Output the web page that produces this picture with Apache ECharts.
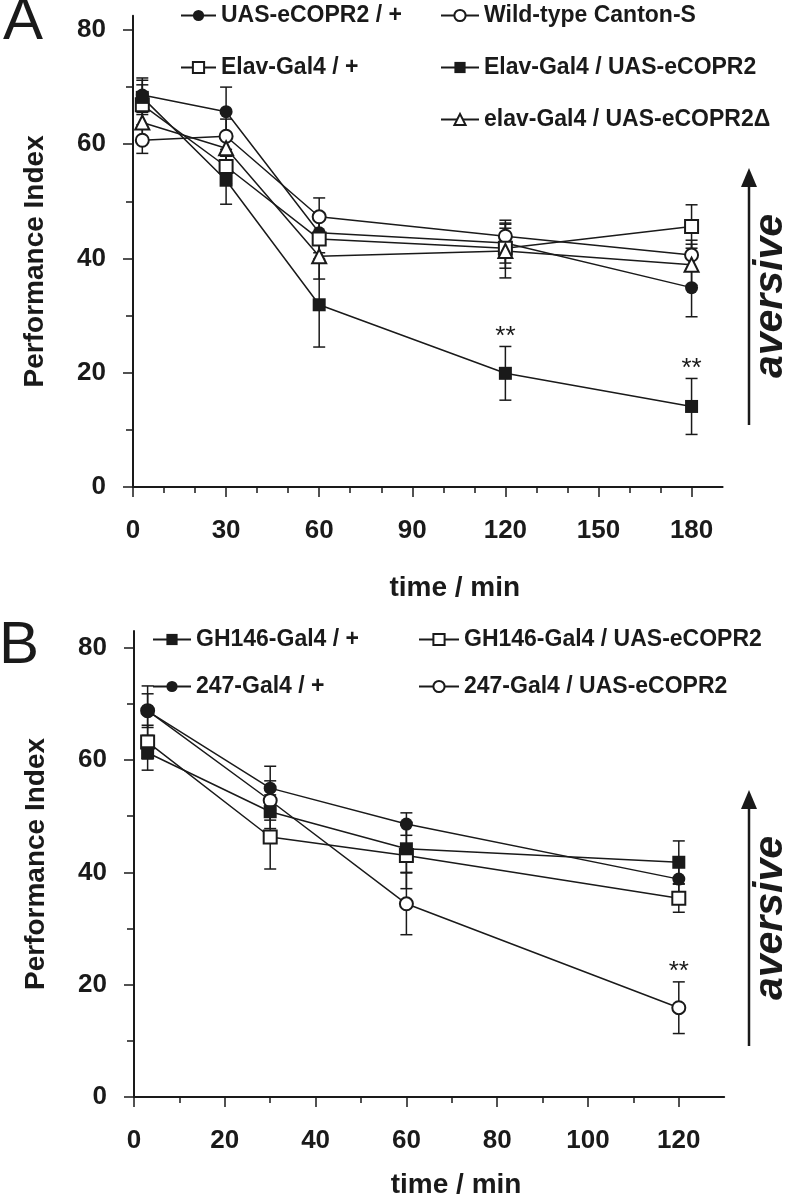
<!DOCTYPE html>
<html><head><meta charset="utf-8">
<script src="https://cdn.jsdelivr.net/npm/echarts@6/dist/echarts.min.js"></script>
<style>html,body{margin:0;padding:0;background:#fff}#c{width:786px;height:1200px}</style>
</head><body><div id="c"></div>
<script>
const FONT = '"Liberation Sans", Arial, Helvetica, sans-serif';
const INK = '#1a1a1a';

// ---------- Panel A ----------
const timesA = [3, 30, 60, 120, 180];
const xTicksA = [0, 30, 60, 90, 120, 150, 180];
const xMinorA = [10, 20, 40, 50, 70, 80, 100, 110, 130, 140, 160, 170];
const yTicks = [0, 20, 40, 60, 80];
const yMinor = [10, 30, 50, 70];

const uasA = [68.6, 65.7, 44.5, 42.7, 34.9];
const uasA_err = [3.0, 4.3, 3.5, 3.5, 5.1];
const wtA = [60.7, 61.4, 47.3, 43.9, 40.6];
const wtA_err = [2.3, 3.0, 3.3, 2.8, 2.6];
const elavA = [66.9, 56.1, 43.4, 41.8, 45.6];
const elavA_err = [3.5, 3.0, 3.5, 3.5, 3.8];
const elavUasA = [68.2, 53.7, 31.9, 19.9, 14.1];
const elavUasA_err = [3.0, 4.2, 7.4, 4.7, 4.9];
const elavDeltaA = [63.8, 59.3, 40.4, 41.3, 38.9];
const elavDeltaA_err = [3.0, 2.5, 4.0, 4.7, 3.6];
const elavUasA_sig = [0, 0, 0, 1, 1];

// ---------- Panel B ----------
const timesB = [3, 30, 60, 120];
const xTicksB = [0, 20, 40, 60, 80, 100, 120];
const xMinorB = [10, 30, 50, 70, 90, 110];

const gh146B = [61.3, 50.8, 44.2, 41.8];
const gh146B_err = [3.1, 3.0, 4.2, 3.8];
const g247B = [68.7, 55.0, 48.6, 38.8];
const g247B_err = [4.5, 3.9, 2.0, 3.0];
const gh146UasB = [63.2, 46.3, 43.0, 35.4];
const gh146UasB_err = [3.0, 5.7, 5.9, 2.5];
const g247UasB = [68.8, 52.8, 34.4, 15.9];
const g247UasB_err = [3.0, 3.5, 5.5, 4.6];
const g247UasB_sig = [0, 0, 0, 1];

const panelA = [
  {name: 'UAS-eCOPR2 / +', symbol: 'circle', size: 13, vals: uasA, errs: uasA_err},
  {name: 'Wild-type Canton-S', symbol: 'emptyCircle', size: 13, vals: wtA, errs: wtA_err},
  {name: 'Elav-Gal4 / +', symbol: 'emptyRect', size: 13, vals: elavA, errs: elavA_err},
  {name: 'elav-Gal4 / UAS-eCOPR2\u0394', symbol: 'emptyTriangle', size: 14, vals: elavDeltaA, errs: elavDeltaA_err},
  {name: 'Elav-Gal4 / UAS-eCOPR2', symbol: 'rect', size: 13, vals: elavUasA, errs: elavUasA_err, sig: elavUasA_sig}
];
const panelB = [
  {name: 'GH146-Gal4 / UAS-eCOPR2', symbol: 'emptyRect', size: 13, vals: gh146UasB, errs: gh146UasB_err},
  {name: '247-Gal4 / UAS-eCOPR2', symbol: 'emptyCircle', size: 13, vals: g247UasB, errs: g247UasB_err, sig: g247UasB_sig},
  {name: 'GH146-Gal4 / +', symbol: 'rect', size: 13, vals: gh146B, errs: gh146B_err},
  {name: '247-Gal4 / +', symbol: 'circle', size: 13, vals: g247B, errs: g247B_err}
];

function buildSeries(panel, times, g) {
  const out = [];
  const errData = [], sigData = [];
  panel.forEach(s => {
    times.forEach((t, i) => {
      errData.push([t, s.vals[i], s.errs[i]]);
      if (s.sig && s.sig[i]) sigData.push([t, s.vals[i], s.errs[i]]);
    });
  });
  out.push({
    type: 'custom', xAxisIndex: g * 2, yAxisIndex: g * 2, z: 2, silent: true,
    data: errData, encode: {x: 0, y: 1},
    renderItem: (params, api) => {
      const x = api.value(0), y = api.value(1), e = api.value(2);
      const top = api.coord([x, y + e]), bot = api.coord([x, y - e]);
      const w = 6, st = {stroke: INK, lineWidth: 1.5};
      return {type: 'group', children: [
        {type: 'line', shape: {x1: top[0], y1: top[1], x2: bot[0], y2: bot[1]}, style: st},
        {type: 'line', shape: {x1: top[0] - w, y1: top[1], x2: top[0] + w, y2: top[1]}, style: st},
        {type: 'line', shape: {x1: bot[0] - w, y1: bot[1], x2: bot[0] + w, y2: bot[1]}, style: st}
      ]};
    }
  });
  panel.forEach(s => {
    out.push({
      type: 'line', name: s.name, xAxisIndex: g * 2, yAxisIndex: g * 2, z: 3,
      data: times.map((t, i) => [t, s.vals[i]]),
      symbol: s.symbol, symbolSize: s.size, showSymbol: true, clip: false,
      lineStyle: {color: INK, width: 1.5},
      itemStyle: {color: INK, borderWidth: 1.5}
    });
  });
  out.push({
    type: 'custom', xAxisIndex: g * 2, yAxisIndex: g * 2, z: 4, silent: true,
    data: sigData, encode: {x: 0, y: 1},
    renderItem: (params, api) => {
      const p = api.coord([api.value(0), api.value(1) + api.value(2)]);
      return {type: 'text', x: p[0], y: p[1] - 10, style: {text: '**', fontSize: 26, fill: INK, align: 'center', verticalAlign: 'middle', fontFamily: FONT}};
    }
  });
  return out;
}

function xAxes(g, max, major, minor, gap) {
  return [
    {type: 'value', gridIndex: g, min: 0, max: max, position: 'bottom',
      axisLine: {onZero: false, lineStyle: {color: INK, width: 2}},
      axisTick: {customValues: major, length: 10, lineStyle: {color: INK, width: 1.5}},
      axisLabel: {customValues: major, fontSize: 26, fontWeight: 'bold', color: INK, fontFamily: FONT, margin: 31},
      splitLine: {show: false},
      name: 'time / min', nameLocation: 'middle', nameGap: gap,
      nameTextStyle: {fontSize: 28, fontWeight: 'bold', color: INK, fontFamily: FONT, verticalAlign: 'middle', padding: [0, 0, 0, 54]}},
    {type: 'value', gridIndex: g, min: 0, max: max, position: 'bottom',
      axisLine: {show: false},
      axisTick: {customValues: minor, length: 6, lineStyle: {color: INK, width: 1.5}},
      axisLabel: {show: false}, splitLine: {show: false}}
  ];
}
function yAxes(g, max, shift) {
  return [
    {type: 'value', gridIndex: g, min: 0, max: max, position: 'left',
      axisLine: {onZero: false, lineStyle: {color: INK, width: 2}},
      axisTick: {customValues: yTicks, length: 10, lineStyle: {color: INK, width: 1.5}},
      axisLabel: {customValues: yTicks, fontSize: 26, fontWeight: 'bold', color: INK, fontFamily: FONT, margin: 27},
      splitLine: {show: false},
      name: 'Performance Index', nameLocation: 'middle', nameGap: 98,
      nameTextStyle: {fontSize: 28, fontWeight: 'bold', color: INK, fontFamily: FONT, verticalAlign: 'middle', padding: [0, shift, 0, 0]}},
    {type: 'value', gridIndex: g, min: 0, max: max, position: 'left',
      axisLine: {show: false},
      axisTick: {customValues: yMinor, length: 7, lineStyle: {color: INK, width: 1.5}},
      axisLabel: {show: false}, splitLine: {show: false}}
  ];
}

const legendBase = {orient: 'vertical', selectedMode: false, padding: 0, itemHeight: 14, itemGap: 29,
  textStyle: {fontSize: 23, fontWeight: 'bold', color: INK, fontFamily: FONT, lineHeight: 14}};

function arrow(x, yTop, yBot) {
  return [
    {type: 'line', shape: {x1: x, y1: yBot, x2: x, y2: yTop + 14}, style: {stroke: INK, lineWidth: 2.5}},
    {type: 'polygon', shape: {points: [[x, yTop], [x - 8, yTop + 19], [x + 8, yTop + 19]]}, style: {fill: INK}}
  ];
}
function aversive(y) {
  return {type: 'text', x: 771, y: y, rotation: Math.PI / 2,
    style: {text: 'aversive', fontSize: 41, fontWeight: 'bold', fontStyle: 'italic', fill: INK, fontFamily: FONT, align: 'center', verticalAlign: 'middle'}};
}

const chart = echarts.init(document.getElementById('c'), null, {renderer: 'canvas'});
chart.setOption({
  animation: false,
  backgroundColor: '#fff',
  grid: [
    {left: 133, right: 63.4, top: 15.7, bottom: 713},
    {left: 134, right: 61.8, top: 630.9, bottom: 95}
  ],
  xAxis: [].concat(xAxes(0, 190, xTicksA, xMinorA, 101), xAxes(1, 130, xTicksB, xMinorB, 88)),
  yAxis: [].concat(yAxes(0, 82.5, 20), yAxes(1, 83, 0)),
  legend: [
    Object.assign({}, legendBase, {data: ['UAS-eCOPR2 / +', 'Elav-Gal4 / +'], left: 180, top: 4, itemWidth: 35}),
    Object.assign({}, legendBase, {data: ['Wild-type Canton-S', 'Elav-Gal4 / UAS-eCOPR2', 'elav-Gal4 / UAS-eCOPR2\u0394'], left: 440, top: 4, itemWidth: 38}),
    Object.assign({}, legendBase, {data: ['GH146-Gal4 / +', '247-Gal4 / +'], left: 152, top: 628, itemWidth: 38, itemGap: 24}),
    Object.assign({}, legendBase, {data: ['GH146-Gal4 / UAS-eCOPR2', '247-Gal4 / UAS-eCOPR2'], left: 418, top: 628, itemWidth: 40, itemGap: 24})
  ],
  graphic: [
    {type: 'text', x: 3, y: -8, style: {text: 'A', fontSize: 60, fill: INK, fontFamily: FONT, verticalAlign: 'top'}},
    {type: 'text', x: -1, y: 616, style: {text: 'B', fontSize: 60, fill: INK, fontFamily: FONT, verticalAlign: 'top'}},
    ...arrow(749, 168, 425),
    aversive(296),
    ...arrow(749, 790, 1046),
    aversive(918)
  ],
  series: [].concat(buildSeries(panelA, timesA, 0), buildSeries(panelB, timesB, 1))
});
</script>
</body></html>
